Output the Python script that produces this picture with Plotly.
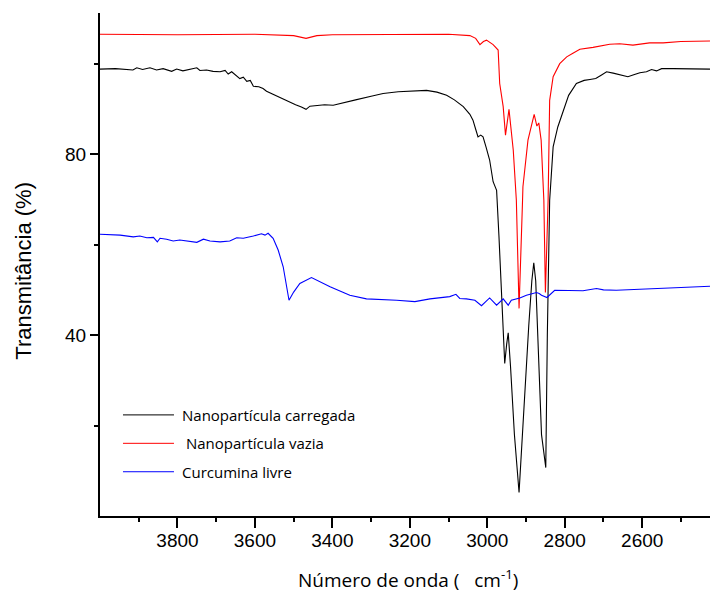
import plotly.graph_objects as go

# ---------------- data ----------------
loaded_x = [4000, 3960, 3915, 3905, 3890, 3871, 3854, 3837, 3815, 3802, 3786, 3770, 3750, 3742,
            3725, 3708, 3690, 3677, 3669, 3660, 3652, 3639, 3630, 3621, 3612, 3604, 3590, 3579,
            3570, 3553, 3535, 3515, 3495, 3480, 3468, 3458, 3441, 3420, 3398, 3370, 3340, 3300,
            3269, 3230, 3190, 3157, 3130, 3105, 3085, 3062, 3045, 3037, 3030, 3024, 3017, 3011,
            3003, 2994, 2985, 2976, 2970, 2963, 2955, 2950, 2946, 2940, 2930, 2918, 2905, 2893,
            2885, 2880, 2875, 2868, 2860, 2849, 2845, 2839, 2830, 2818, 2804, 2790, 2770, 2750,
            2735, 2720, 2705, 2692, 2675, 2667, 2655, 2637, 2620, 2606, 2589, 2576, 2563, 2550,
            2520, 2490, 2460, 2425]
loaded_y = [98.8, 98.9, 98.6, 99.1, 98.7, 99.1, 98.6, 98.9, 98.3, 98.8, 98.4, 98.7, 99.1, 98.5,
            98.6, 98.3, 98.2, 98.5, 97.7, 98.2, 97.6, 96.7, 97.0, 96.1, 96.3, 95.0, 94.9, 94.5,
            93.9, 93.2, 92.4, 91.6, 90.9, 90.4, 89.9, 90.6, 90.8, 90.9, 90.8, 91.3, 92.0, 92.8,
            93.4, 93.8, 94.0, 94.1, 93.7, 93.0, 92.0, 90.5, 88.8, 87.5, 85.5, 83.8, 84.2, 83.8,
            81.5, 78.7, 73.9, 72.0, 62.0, 47.7, 33.7, 38.0, 40.5, 33.0, 18.0, 5.2, 25.0, 42.0,
            52.0, 56.0, 52.0, 35.0, 18.0, 10.7, 40.0, 69.8, 81.6, 86.0, 89.7, 93.0, 95.6, 96.3,
            96.5, 96.7, 97.5, 98.2, 97.9, 97.7, 97.4, 97.1, 97.6, 98.0, 98.2, 98.7, 98.4, 98.9,
            98.9, 98.9, 98.8, 98.8]

empty_x = [4000, 3800, 3600, 3500, 3468, 3440, 3400, 3200, 3100, 3045, 3030, 3019, 3010, 3002,
           2993, 2985, 2972, 2968, 2959, 2953, 2944, 2933, 2925, 2918, 2909, 2908, 2895, 2879,
           2872, 2867, 2861, 2854, 2850, 2843, 2839, 2830, 2813, 2795, 2779, 2761, 2727, 2692,
           2684, 2658, 2624, 2581, 2546, 2500, 2425]
empty_y = [106.5, 106.4, 106.5, 106.2, 105.6, 106.2, 106.4, 106.5, 106.5, 106.2, 105.6, 104.2,
           104.9, 105.2, 104.7, 104.2, 103.0, 95.6, 90.5, 84.2, 89.9, 80.9, 69.8, 45.9, 69.8,
           72.8, 83.1, 88.8, 86.2, 86.9, 83.1, 69.8, 49.4, 69.8, 91.9, 97.1, 100.0, 101.5, 102.3,
           103.2, 103.6, 104.2, 104.3, 104.4, 104.1, 104.6, 104.6, 104.9, 105.0]

curc_x = [4000, 3948, 3914, 3897, 3879, 3862, 3852, 3845, 3828, 3811, 3794, 3776, 3750, 3733,
          3716, 3690, 3665, 3647, 3630, 3604, 3583, 3574, 3566, 3553, 3540, 3527, 3512, 3500,
          3484, 3454, 3406, 3355, 3312, 3234, 3187, 3148, 3097, 3081, 3071, 3054, 3032, 3015,
          2994, 2976, 2959, 2946, 2938, 2916, 2899, 2873, 2866, 2860, 2846, 2826, 2790, 2753,
          2718, 2700, 2667, 2600, 2500, 2425]
curc_y = [62.3, 62.1, 61.7, 61.9, 61.5, 61.6, 60.6, 61.4, 61.2, 60.8, 61.0, 60.8, 60.5, 61.2,
          60.8, 60.6, 60.8, 61.5, 61.4, 61.9, 62.4, 62.1, 62.5, 61.4, 58.8, 55.1, 47.7, 49.5,
          51.4, 52.7, 50.7, 48.8, 48.0, 47.7, 47.4, 48.0, 48.5, 49.0, 48.1, 48.0, 47.7, 46.5,
          48.2, 46.6, 48.0, 46.6, 47.7, 48.2, 48.8, 49.4, 49.2, 48.8, 48.3, 49.9, 49.9, 49.8,
          50.3, 50.0, 49.9, 50.2, 50.5, 50.8]

series_names = ["Nanopartícula carregada", "Nanopartícula vazia", "Curcumina livre"]
legend_labels = ["Nanopartícula carregada", "\u00a0Nanopartícula vazia", "Curcumina livre"]
series_colors = ["#000000", "#ff0000", "#0000ff"]

x_ticks = [3800, 3600, 3400, 3200, 3000, 2800, 2600]
x_minor = [3900, 3700, 3500, 3300, 3100, 2900, 2700, 2500]
y_ticks = [40, 80]
y_minor = [20, 60, 100]
top_ticks = [3995.8, 3836.6, 3677.4, 3518.2, 3359.0, 3199.8, 3040.6, 2881.4, 2722.2, 2563.0]

x_range = [4000, 2425]
y_range = [0, 111.2]

# ---------------- figure ----------------
fig = go.Figure()
for xs, ys, name, col in zip([loaded_x, empty_x, curc_x], [loaded_y, empty_y, curc_y],
                             series_names, series_colors):
    fig.add_trace(go.Scatter(x=xs, y=ys, mode="lines", name=name,
                             line=dict(color=col, width=1.1), showlegend=False))

# hand-made legend (line samples + labels)
leg_y = [0.201, 0.1445, 0.088]
for lab, col, ly in zip(legend_labels, series_colors, leg_y):
    fig.add_shape(type="line", xref="paper", yref="paper", x0=0.0377, x1=0.1213, y0=ly, y1=ly,
                  line=dict(color=col, width=1))
    fig.add_annotation(text=lab, xref="paper", yref="paper", x=0.131, y=ly,
                       xanchor="left", yanchor="middle", showarrow=False,
                       font=dict(family="Open Sans", size=15, color="#000"))

# axis titles
fig.add_annotation(text="Transmitância (%)", xref="paper", yref="paper", x=-0.126, y=0.488,
                   xanchor="center", yanchor="middle", textangle=-90, showarrow=False,
                   font=dict(family="Arial", size=22, color="#000"))
fig.add_annotation(text="Número de onda (\u00a0\u00a0\u00a0cm<sup>-1</sup>)", xref="paper",
                   yref="paper", x=0.505, y=-0.126, xanchor="center", yanchor="middle",
                   showarrow=False, font=dict(family="Open Sans", size=19, color="#000"))

fig.update_layout(
    width=710, height=592,
    margin=dict(l=100, r=0, t=13, b=76),
    plot_bgcolor="white", paper_bgcolor="white",
    showlegend=False,
    xaxis=dict(range=x_range, showgrid=False, zeroline=False, showline=True, linecolor="black",
               linewidth=2, ticks="outside", ticklen=10, tickwidth=1.5, tickcolor="black",
               tickvals=x_ticks, ticktext=[str(v) for v in x_ticks], ticklabelstandoff=-4,
               tickfont=dict(family="Arial", size=19, color="black"),
               minor=dict(tickvals=x_minor, ticks="outside", ticklen=4, tickwidth=1.5,
                          tickcolor="black", showgrid=False)),
    xaxis2=dict(range=x_range, overlaying="x", side="top", showgrid=False, zeroline=False,
                showline=True, linecolor="black", linewidth=2, ticks="outside", ticklen=2,
                tickwidth=1, tickcolor="black", tickvals=top_ticks, showticklabels=False),
    yaxis=dict(range=y_range, showgrid=False, zeroline=False, showline=True, linecolor="black",
               linewidth=2, ticks="outside", ticklen=8, tickwidth=1.5, tickcolor="black",
               tickvals=y_ticks, ticktext=[str(v) for v in y_ticks],
               tickfont=dict(family="Arial", size=19, color="black"),
               minor=dict(tickvals=y_minor, ticks="outside", ticklen=4, tickwidth=1.5,
                          tickcolor="black", showgrid=False)),
)

fig.write_html("out.html",
               config={"displayModeBar": False},
               post_script="document.body.style.margin='0';"
                           "document.body.style.overflow='hidden';")
